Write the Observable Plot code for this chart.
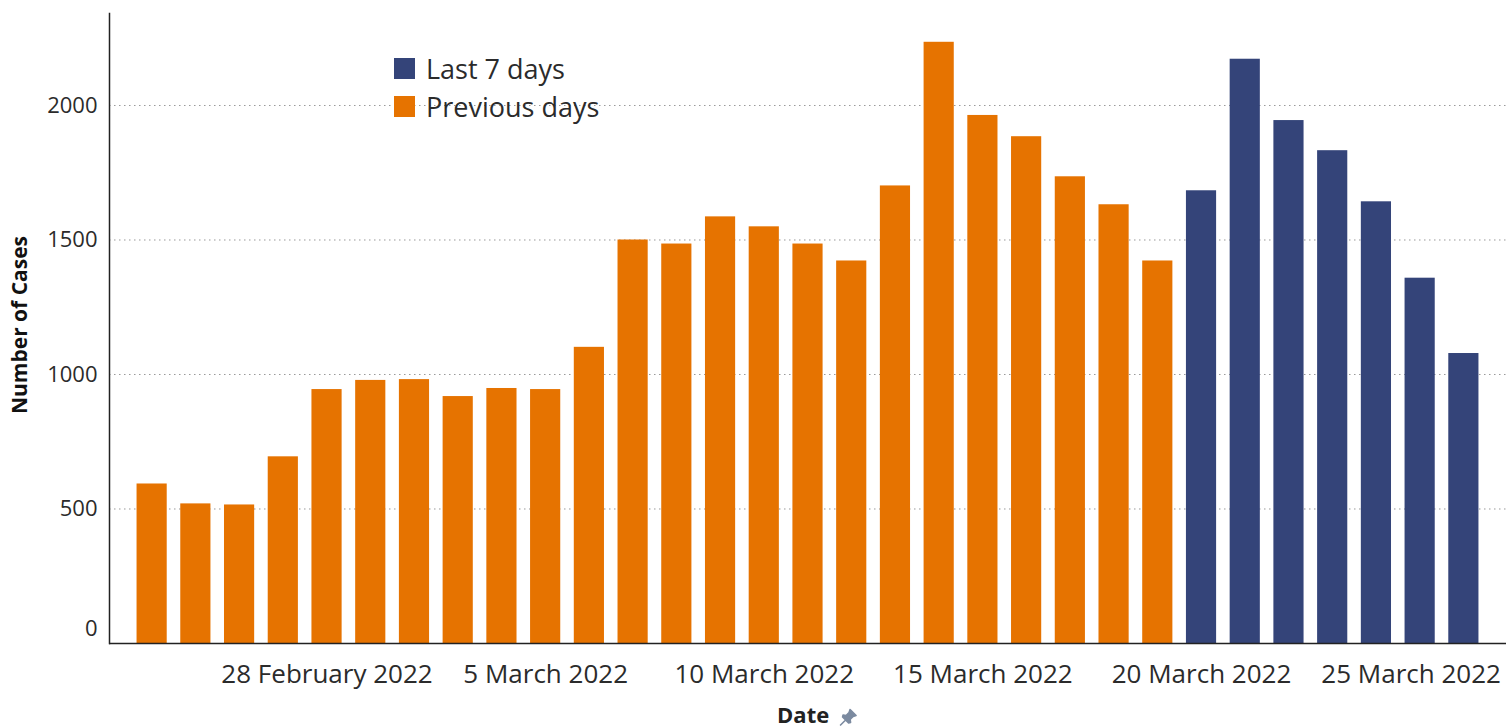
<!DOCTYPE html>
<html><head><meta charset="utf-8">
<script src="https://cdn.jsdelivr.net/npm/d3@7"></script>
<script src="https://cdn.jsdelivr.net/npm/@observablehq/plot@0.6"></script>
<style>
body{margin:0;background:#fff;font-family:"Open Sans",sans-serif;}
#wrap{position:relative;width:1506px;height:728px;overflow:hidden;}
.leg{position:absolute;left:394px;font-size:27px;line-height:1;color:#2b2b2b;display:flex;align-items:center;}
.leg span.sw{display:inline-block;width:21px;height:21px;margin-right:11px;}
#ylab{position:absolute;left:19px;top:325px;line-height:1;transform:translate(-50%,-50%) rotate(-90deg);font-weight:bold;font-size:21px;color:#111;white-space:nowrap;}
#xlab{position:absolute;left:817px;top:715px;line-height:1;transform:translate(-50%,-50%);font-weight:bold;font-size:22px;color:#222;white-space:nowrap;}
</style>
</head><body>
<div id="wrap"></div>
<script>
const dates = ["2022-02-24","2022-02-25","2022-02-26","2022-02-27","2022-02-28",
  "2022-03-01","2022-03-02","2022-03-03","2022-03-04","2022-03-05","2022-03-06",
  "2022-03-07","2022-03-08","2022-03-09","2022-03-10","2022-03-11","2022-03-12",
  "2022-03-13","2022-03-14","2022-03-15","2022-03-16","2022-03-17","2022-03-18",
  "2022-03-19","2022-03-20","2022-03-21","2022-03-22","2022-03-23","2022-03-24",
  "2022-03-25","2022-03-26"];
const cases = [593,519,515,694,944,978,981,918,948,944,1101,1500,1485,1586,1549,1485,1422,
  1701,2235,1963,1884,1735,1631,1422,1683,2172,1944,1832,1642,1358,1078];
const periods = ["Previous days","Previous days","Previous days","Previous days","Previous days",
  "Previous days","Previous days","Previous days","Previous days","Previous days","Previous days",
  "Previous days","Previous days","Previous days","Previous days","Previous days","Previous days",
  "Previous days","Previous days","Previous days","Previous days","Previous days","Previous days",
  "Previous days","Last 7 days","Last 7 days","Last 7 days","Last 7 days","Last 7 days",
  "Last 7 days","Last 7 days"];
const seriesNames = ["Last 7 days","Previous days"];
const seriesColors = ["#344479","#E67300"];
const xTicks = ["2022-02-28","2022-03-05","2022-03-10","2022-03-15","2022-03-20","2022-03-25"];
const yTicks = [0,500,1000,1500,2000];

const data = dates.map((d,i)=>({date:d, cases:cases[i], period:periods[i]}));
const fmt = d3.utcFormat("%-d %B %Y");
const xAxisOpts = {tickFormat:d=>fmt(new Date(d)), tickSize:0, tickPadding:21, fontSize:26, label:null, fill:"#2b2b2b"};
const yAxisOpts = {tickFormat:d=>String(d), tickSize:0, tickPadding:12, fontSize:22, label:null, fill:"#2b2b2b"};

const chart = Plot.plot({
  width:1506, height:728,
  marginLeft:109, marginRight:0, marginTop:13, marginBottom:85,
  style:{fontFamily:"'Open Sans',sans-serif", color:"#2b2b2b", background:"#fff"},
  x:{type:"band", domain:dates, paddingInner:0.31, paddingOuter:0.63, round:false},
  y:{domain:[0,2342]},
  color:{domain:seriesNames, range:seriesColors},
  marks:[
    Plot.gridY(yTicks.filter(d=>d>0), {stroke:"#999", strokeOpacity:1, strokeDasharray:"1.5,3.5"}),
    Plot.barY(data, {x:"date", y:"cases", fill:"period"}),
    Plot.ruleY([0], {stroke:"#222", strokeWidth:1.5}),
    Plot.frame({anchor:"left", stroke:"#222", strokeWidth:1.5}),
    Plot.axisX(xTicks.slice(0,-1), xAxisOpts),
    Plot.axisX(xTicks.slice(-1), {...xAxisOpts, dx:-9}),
    Plot.axisY(yTicks.filter(d=>d>0), yAxisOpts),
    Plot.axisY([0], {...yAxisOpts, dy:-15})
  ]
});
const wrap = document.getElementById("wrap");
wrap.appendChild(chart);
seriesNames.forEach((n,i)=>{
  const el=document.createElement("div");
  el.className="leg";
  el.style.top=(55+i*38)+"px";
  el.innerHTML=`<span class="sw" style="background:${seriesColors[i]}"></span>${n}`;
  wrap.appendChild(el);
});
const yl=document.createElement("div"); yl.id="ylab"; yl.textContent="Number of Cases"; wrap.appendChild(yl);
const xl=document.createElement("div"); xl.id="xlab";
xl.innerHTML='Date <svg width="18" height="18" viewBox="0 0 18 18" style="vertical-align:middle;margin-left:4px"><path d="M11 1 L17 7 L14 8 L11 11 L11.5 14 L9.5 14.5 L3.5 8.5 L4 6.5 L7 7 L10 4 Z M6 12 L1 17" fill="#7b8aa0" stroke="#7b8aa0" stroke-width="1.6" stroke-linejoin="round"/></svg>';
wrap.appendChild(xl);
</script>
</body></html>
